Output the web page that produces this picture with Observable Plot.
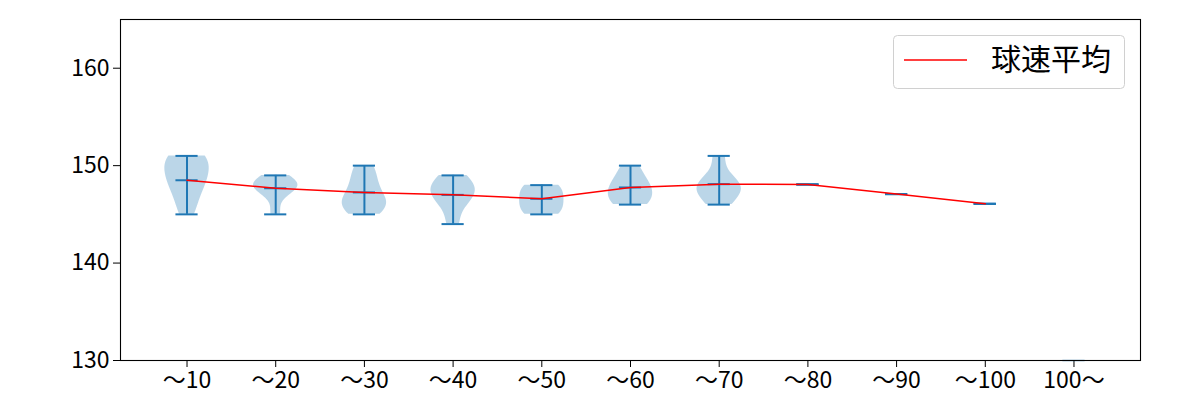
<!DOCTYPE html>
<html><head><meta charset="utf-8">
<script src="https://cdn.jsdelivr.net/npm/d3@7"></script>
<script src="https://cdn.jsdelivr.net/npm/@observablehq/plot@0.6"></script>
<style>body{margin:0;background:#fff} #chart{width:1200px;height:400px}</style>
</head><body><div id="chart"></div>
<script>
const categories = ["〜10","〜20","〜30","〜40","〜50","〜60","〜70","〜80","〜90","〜100","100〜"];
const speeds = [
  [145,146,147,148,148,149,149,150,150,151,151,151],
  [145,147,148,148,148,148,149],
  [145,146,146,146,147,148,149,150],
  [144,146,147,147,148,148,149],
  [145,145,146,146,147,147,148,148],
  [146,146,147,147,148,148,149,150],
  [146,147,148,148,148,151],
  [148.07],
  [147.08],
  [146.08],
  []
];
const means = [148.5,147.68,147.25,147.0,146.6,147.76,148.1,148.07,147.08,146.08,null];
const offScale = [null,null,null,null,null,null,null,null,null,null,130];
const yTicks = [130,140,150,160];
const legendLabel = "球速平均";

const bodies = [];
const stats = [];
speeds.forEach((v,i)=>{
  const cat = i+1;
  if (v.length === 0) return;
  stats.push({cat, min:d3.min(v), max:d3.max(v), mean:means[i]});
  if (v.length < 2) return;
  const n = v.length, sd = d3.deviation(v), bw = sd*Math.pow(n,-0.2);
  const lo = d3.min(v), hi = d3.max(v);
  const pts = d3.range(100).map(k=>lo+(hi-lo)*k/99);
  const dens = pts.map(y=>d3.sum(v,x=>Math.exp(-0.5*((y-x)/bw)**2)));
  const mx = d3.max(dens);
  pts.forEach((y,k)=>bodies.push({cat,y,x1:cat-0.25*dens[k]/mx,x2:cat+0.25*dens[k]/mx}));
});
const meanLine = means.map((m,i)=>({cat:i+1,mean:m})).filter(d=>d.mean!=null);
const faint = offScale.map((v,i)=>({cat:i+1,v})).filter(d=>d.v!=null);

const chart = Plot.plot({
  width:1200, height:400, marginLeft:120, marginRight:60, marginTop:19, marginBottom:40,
  style:{fontFamily:"'Noto Sans CJK JP', sans-serif", fontSize:"23px", color:"#000", background:"#fff"},
  x:{domain:[0.25,11.75], ticks:categories.map((c,i)=>i+1), tickFormat:d=>categories[d-1], tickSize:7, tickPadding:4, label:null},
  y:{domain:[130,165], ticks:yTicks, tickSize:7, tickPadding:4, label:null},
  marks:[
    Plot.areaX(bodies,{y:"y",x1:"x1",x2:"x2",z:"cat",fill:"#1f77b4",fillOpacity:0.3}),
    Plot.ruleY(faint,{y:"v",x1:d=>d.cat-0.125,x2:d=>d.cat+0.125,stroke:"#1f77b4",strokeOpacity:0.3,strokeWidth:2}),
    Plot.ruleX(stats,{x:"cat",y1:"min",y2:"max",stroke:"#1f77b4",strokeWidth:2}),
    Plot.ruleY(stats,{y:"min",x1:d=>d.cat-0.125,x2:d=>d.cat+0.125,stroke:"#1f77b4",strokeWidth:2}),
    Plot.ruleY(stats,{y:"max",x1:d=>d.cat-0.125,x2:d=>d.cat+0.125,stroke:"#1f77b4",strokeWidth:2}),
    Plot.ruleY(stats,{y:"mean",x1:d=>d.cat-0.125,x2:d=>d.cat+0.125,stroke:"#1f77b4",strokeWidth:2}),
    Plot.line(meanLine,{x:"cat",y:"mean",stroke:"red",strokeWidth:1.5}),
    Plot.frame({stroke:"#000",strokeWidth:1.1})
  ]
});
document.getElementById("chart").appendChild(chart);

const svg = d3.select(chart);
const lg = svg.append("g");
lg.append("rect").attr("x",893.5).attr("y",35.5).attr("width",231).attr("height",53).attr("rx",4)
  .attr("fill","#fff").attr("fill-opacity",0.8).attr("stroke","#d0d0d0");
lg.append("line").attr("x1",904).attr("x2",967).attr("y1",60).attr("y2",60).attr("stroke","red").attr("stroke-width",1.5);
lg.append("text").attr("x",991).attr("y",70).attr("font-size","30px").attr("fill","#000")
  .attr("text-anchor","start")
  .attr("font-family","'Noto Sans CJK JP', sans-serif").text(legendLabel);
</script></body></html>
